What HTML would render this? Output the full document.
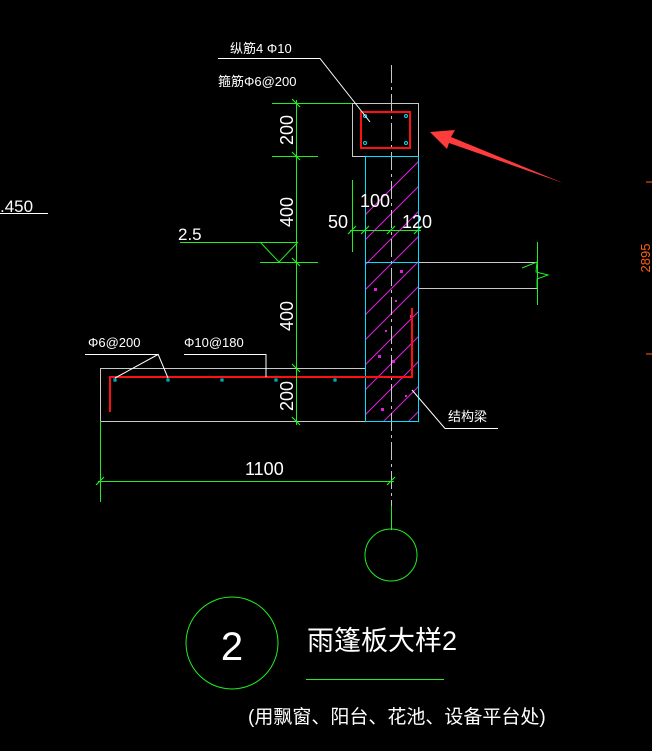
<!DOCTYPE html>
<html><head><meta charset="utf-8"><style>
html,body{margin:0;padding:0;background:#000;}
svg{display:block}
text{font-family:"Liberation Sans","Noto Sans CJK SC",sans-serif;fill:#fff}
</style></head><body>
<svg width="652" height="751" viewBox="0 0 652 751" xmlns="http://www.w3.org/2000/svg">
<defs>
<clipPath id="wall"><rect x="365" y="156" width="53" height="265"/></clipPath>
</defs>
<g clip-path="url(#wall)" stroke="#e020e0" stroke-width="1">
<line x1="340" y1="240" x2="440" y2="140"/>
<line x1="340" y1="265" x2="440" y2="165"/>
<line x1="340" y1="290" x2="440" y2="190"/>
<line x1="340" y1="315" x2="440" y2="215"/>
<line x1="340" y1="340" x2="440" y2="240"/>
<line x1="340" y1="365" x2="440" y2="265"/>
<line x1="340" y1="390" x2="440" y2="290"/>
<line x1="340" y1="415" x2="440" y2="315"/>
<line x1="340" y1="440" x2="440" y2="340"/>
<line x1="340" y1="465" x2="440" y2="365"/>
<line x1="340" y1="490" x2="440" y2="390"/>
<line x1="340" y1="515" x2="440" y2="415"/>
</g>
<g fill="#e020e0">
<rect x="374" y="288" width="3" height="3"/><rect x="400" y="270" width="3" height="3"/><rect x="392" y="360" width="3" height="3"/>
<rect x="378" y="355" width="3" height="3"/><rect x="410" y="315" width="3" height="3"/><rect x="381" y="408" width="3" height="3"/>
<rect x="395" y="300" width="2" height="2"/><rect x="385" y="330" width="2" height="2"/><rect x="405" y="395" width="2" height="2"/>
</g>
<g stroke="#c8c8c8" stroke-width="1" fill="none">
<rect x="352.5" y="103.5" width="66" height="53"/>
<polyline points="100.5,421.5 100.5,368.5 365.5,368.5"/>
<line x1="100" y1="421.5" x2="365" y2="421.5"/>
<line x1="418" y1="262.5" x2="537" y2="262.5"/>
<line x1="418" y1="288.5" x2="537" y2="288.5"/>
<line x1="391.5" y1="65" x2="391.5" y2="530" stroke-dasharray="18,4,3,4"/>
</g>
<g stroke="#00e0ff" stroke-width="1" fill="none">
<rect x="365.5" y="156.5" width="53" height="265"/>
<line x1="365" y1="262.5" x2="418" y2="262.5"/>
</g>
<rect x="361" y="112" width="49" height="36" fill="none" stroke="#ff1010" stroke-width="2"/>
<polyline points="110,412 110,377 412,377 412,308" fill="none" stroke="#ff1010" stroke-width="2"/>
<g fill="none" stroke="#00e0ff" stroke-width="1">
<circle cx="365" cy="116" r="1.5"/><circle cx="406" cy="116" r="1.5"/><circle cx="365" cy="143" r="1.5"/><circle cx="406" cy="143" r="1.5"/>
<rect x="114" y="379" width="2" height="2"/><rect x="167" y="379" width="2" height="2"/><rect x="221" y="379" width="2" height="2"/><rect x="275" y="379" width="2" height="2"/><rect x="334" y="379" width="2" height="2"/>
</g>
<g stroke="#20ee20" stroke-width="1" fill="none">
<line x1="296.5" y1="100" x2="296.5" y2="425"/>
<line x1="272" y1="103.5" x2="352" y2="103.5"/>
<line x1="272" y1="156.5" x2="318" y2="156.5"/>
<line x1="260" y1="262.5" x2="318" y2="262.5"/>
<line x1="180" y1="242.5" x2="298" y2="242.5"/>
<polyline points="260,242 279,262 298,242"/>
<line x1="352.5" y1="180" x2="352.5" y2="252"/>
<line x1="350" y1="230.5" x2="421" y2="230.5"/>
<line x1="100.5" y1="421" x2="100.5" y2="502"/>
<line x1="98" y1="481.5" x2="394" y2="481.5"/>
<line x1="537.5" y1="242" x2="537.5" y2="305"/>
<polyline points="522,268 537,262 536,272 548,275 537,279 537,288"/>
<circle cx="391" cy="555" r="26"/>
<circle cx="232" cy="643" r="46"/>
<line x1="306" y1="679.5" x2="444" y2="679.5"/>
<g stroke-width="1.2">
<line x1="292" y1="99" x2="300" y2="107"/><line x1="292" y1="152" x2="300" y2="160"/>
<line x1="292" y1="258" x2="300" y2="266"/><line x1="292" y1="364" x2="300" y2="372"/><line x1="292" y1="417" x2="300" y2="425"/>
<line x1="348" y1="234" x2="356" y2="226"/><line x1="361" y1="234" x2="369" y2="226"/><line x1="387" y1="234" x2="395" y2="226"/><line x1="414" y1="234" x2="422" y2="226"/>
<line x1="96" y1="485" x2="104" y2="477"/><line x1="387" y1="485" x2="395" y2="477"/>
</g>
</g>
<line x1="391.5" y1="506" x2="391.5" y2="529" stroke="#20ee20"/>
<g stroke="#fff" stroke-width="1" fill="none">
<polyline points="218,58.5 320,58.5 370,122"/>
<polyline points="85,354.5 158,354.5 115,378"/>
<line x1="158" y1="354" x2="168" y2="378"/>
<polyline points="184,354.5 266,354.5 266,377"/>
<polyline points="412,390 445,428.5 498,428.5"/>
<line x1="0" y1="213.5" x2="48" y2="213.5"/>
</g>
<polygon points="430,132 455,130 451,137 563,183 449,143 447,149" fill="#ff3c3c"/>
<text x="230" y="53" font-size="13">纵筋4 Φ10</text>
<text x="218" y="86" font-size="13">箍筋Φ6@200</text>
<text x="0" y="212" font-size="17">.450</text>
<text x="178" y="240" font-size="17">2.5</text>
<text x="360" y="207" font-size="18">100</text>
<text x="328" y="228" font-size="18">50</text>
<text x="402" y="228" font-size="18">120</text>
<text x="88" y="347" font-size="13">Φ6@200</text>
<text x="184" y="347" font-size="13">Φ10@180</text>
<text x="448" y="421" font-size="13">结构梁</text>
<text x="245" y="475" font-size="18">1100</text>
<g font-size="18">
<text transform="translate(293,130) rotate(-90)" text-anchor="middle">200</text>
<text transform="translate(293,212) rotate(-90)" text-anchor="middle">400</text>
<text transform="translate(293,316) rotate(-90)" text-anchor="middle">400</text>
<text transform="translate(293,396) rotate(-90)" text-anchor="middle">200</text>
</g>
<text transform="translate(650,258) rotate(-90)" text-anchor="middle" font-size="13" style="fill:#ff6010">2895</text>
<line x1="646" y1="182" x2="652" y2="182" stroke="#ff6010"/>
<line x1="646" y1="354" x2="652" y2="354" stroke="#ff6010"/>
<text x="232" y="660" font-size="40" text-anchor="middle">2</text>
<text x="307" y="650" font-size="27">雨篷板大样2</text>
<text x="248" y="723" font-size="19">(用飘窗、阳台、花池、设备平台处)</text>
</svg>
</body></html>
